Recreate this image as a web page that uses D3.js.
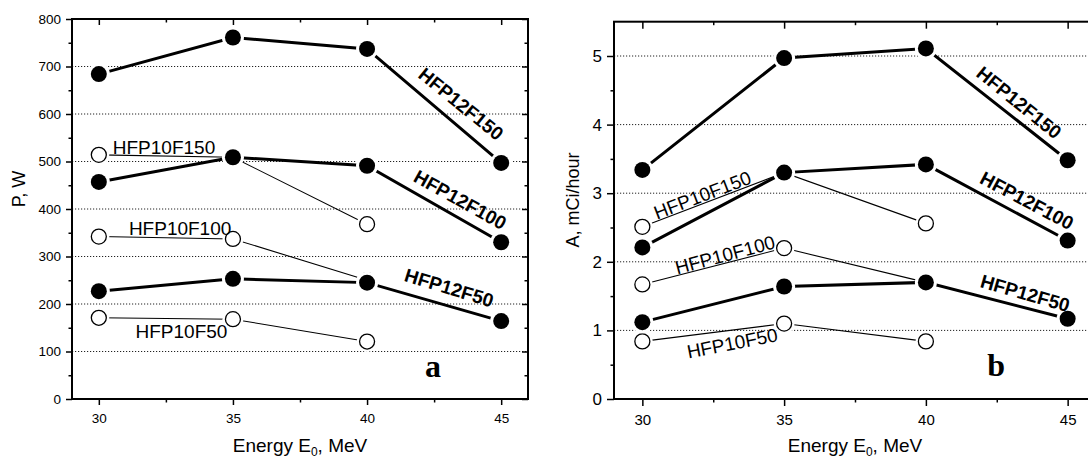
<!DOCTYPE html>
<html>
<head>
<meta charset="utf-8">
<script src="https://cdn.jsdelivr.net/npm/d3@7"></script>
<style>
  body { margin: 0; background: #fff; }
  svg text { font-family: "Liberation Sans", Arial, sans-serif; fill: #000; }
</style>
</head>
<body>
<div id="d3-container"></div>
<script>
// Energies E0 (MeV) and axis ticks
const energies = [30, 35, 40, 45];
const energyTicks = [30, 35, 40, 45];
const energyMinorTicks = [32.5, 37.5, 42.5];

// Panel a: beam power P, W
const powerTicks = [0, 100, 200, 300, 400, 500, 600, 700, 800];
const powerMinorTicks = [50, 150, 250, 350, 450, 550, 650, 750];
const powerGrid = [100, 200, 300, 400, 500, 600, 700];
const powerHFP12F150 = [684, 761, 737, 497];
const powerHFP12F100 = [457, 509, 491, 330];
const powerHFP12F50 = [227, 253, 245, 164];
const powerHFP10F150 = [514, 509, 368];
const powerHFP10F100 = [342, 337, 250];
const powerHFP10F50 = [171, 168, 121];

// Panel b: activity A, mCi/hour
const activityTicks = [0, 1, 2, 3, 4, 5];
const activityMinorTicks = [0.5, 1.5, 2.5, 3.5, 4.5];
const activityGrid = [1, 2, 3, 4, 5];
const activityHFP12F150 = [3.34, 4.97, 5.11, 3.48];
const activityHFP12F100 = [2.21, 3.30, 3.42, 2.31];
const activityHFP12F50 = [1.12, 1.64, 1.70, 1.17];
const activityHFP10F150 = [2.51, 3.30, 2.56];
const activityHFP10F100 = [1.67, 2.20, 1.70];
const activityHFP10F50 = [0.84, 1.10, 0.84];

const width = 1088;
const height = 458;

const svg = d3.select('#d3-container')
    .append('svg')
    .attr('width', width)
    .attr('height', height);

// label anchors are given in data units (energy, value)
const panels = [
    {
        left: 72, right: 528, top: 19, bottom: 399,
        yDomain: [0, 800], yTicks: powerTicks, yMinor: powerMinorTicks, grid: powerGrid,
        yFont: 13.5, xFont: 13.5, tick: 6,
        title: 'P, W', titleX: 19, titleY: 189,
        letter: 'a', letterAt: [42.46, 46],
        series: [
            { name: 'HFP10F150', values: powerHFP10F150, filled: false },
            { name: 'HFP10F100', values: powerHFP10F100, filled: false },
            { name: 'HFP10F50', values: powerHFP10F50, filled: false },
            { name: 'HFP12F150', values: powerHFP12F150, filled: true },
            { name: 'HFP12F100', values: powerHFP12F100, filled: true },
            { name: 'HFP12F50', values: powerHFP12F50, filled: true }
        ],
        labels: [
            { text: 'HFP10F150', at: [32.43, 530], angle: 0, bold: false },
            { text: 'HFP10F100', at: [33.03, 359], angle: 0, bold: false },
            { text: 'HFP10F50', at: [33.08, 142], angle: 0, bold: false },
            { text: 'HFP12F150', at: [43.5, 621], angle: 39, bold: true },
            { text: 'HFP12F100', at: [43.47, 419], angle: 29, bold: true },
            { text: 'HFP12F50', at: [43.06, 234], angle: 17, bold: true }
        ]
    },
    {
        left: 614, right: 1096, top: 21.7, bottom: 399,
        yDomain: [0, 5.5], yTicks: activityTicks, yMinor: activityMinorTicks, grid: activityGrid,
        yFont: 17, xFont: 15, tick: 7,
        title: 'A, mCi/hour', titleX: 573, titleY: 200,
        letter: 'b', letterAt: [42.48, 0.33],
        series: [
            { name: 'HFP10F150', values: activityHFP10F150, filled: false },
            { name: 'HFP10F100', values: activityHFP10F100, filled: false },
            { name: 'HFP10F50', values: activityHFP10F50, filled: false },
            { name: 'HFP12F150', values: activityHFP12F150, filled: true },
            { name: 'HFP12F100', values: activityHFP12F100, filled: true },
            { name: 'HFP12F50', values: activityHFP12F50, filled: true }
        ],
        labels: [
            { text: 'HFP10F150', at: [32.12, 2.97], angle: -21, bold: false },
            { text: 'HFP10F100', at: [32.92, 2.10], angle: -15, bold: false },
            { text: 'HFP10F50', at: [33.17, 0.81], angle: -11, bold: false },
            { text: 'HFP12F150', at: [43.28, 4.32], angle: 39, bold: true },
            { text: 'HFP12F100', at: [43.56, 2.89], angle: 28, bold: true },
            { text: 'HFP12F50', at: [43.5, 1.54], angle: 16, bold: true }
        ]
    }
];

function styleAxis(g, fontSize) {
    g.select('.domain').remove();
    g.selectAll('.tick line').attr('stroke', '#000').attr('stroke-width', 1.5);
    g.selectAll('.tick text').attr('font-size', fontSize + 'px').attr('fill', '#000');
    g.attr('font-family', null);
}

function drawPanel(p) {
    const x = d3.scaleLinear().domain([29, 46]).range([p.left, p.right]);
    const y = d3.scaleLinear().domain(p.yDomain).range([p.bottom, p.top]);
    const g = svg.append('g');

    // dotted horizontal grid
    g.append('g').selectAll('line')
        .data(p.grid)
        .join('line')
            .attr('x1', p.left).attr('x2', p.right)
            .attr('y1', d => y(d)).attr('y2', d => y(d))
            .attr('stroke', '#222').attr('stroke-width', 1)
            .attr('stroke-dasharray', '1.2,1.8');

    // ticks: labelled ones outside, mirrored ones inside
    g.append('g').attr('transform', `translate(${p.left},0)`)
        .call(d3.axisLeft(y).tickValues(p.yTicks).tickSize(p.tick).tickPadding(5).tickFormat(d3.format('d')))
        .call(styleAxis, p.yFont);
    g.append('g').attr('transform', `translate(${p.left},0)`)
        .call(d3.axisLeft(y).tickValues(p.yMinor).tickSize(3.5).tickFormat(''))
        .call(styleAxis, p.yFont);
    g.append('g').attr('transform', `translate(${p.right},0)`)
        .call(d3.axisRight(y).tickValues(p.yTicks).tickSize(-p.tick).tickFormat(''))
        .call(styleAxis, p.yFont);
    g.append('g').attr('transform', `translate(${p.right},0)`)
        .call(d3.axisRight(y).tickValues(p.yMinor).tickSize(-3.5).tickFormat(''))
        .call(styleAxis, p.yFont);
    g.append('g').attr('transform', `translate(0,${p.bottom})`)
        .call(d3.axisBottom(x).tickValues(energyTicks).tickSize(p.tick).tickPadding(8))
        .call(styleAxis, p.xFont);
    g.append('g').attr('transform', `translate(0,${p.bottom})`)
        .call(d3.axisBottom(x).tickValues(energyMinorTicks).tickSize(3.5).tickFormat(''))
        .call(styleAxis, p.xFont);
    g.append('g').attr('transform', `translate(0,${p.top})`)
        .call(d3.axisTop(x).tickValues(energyTicks).tickSize(-p.tick).tickFormat(''))
        .call(styleAxis, p.xFont);
    g.append('g').attr('transform', `translate(0,${p.top})`)
        .call(d3.axisTop(x).tickValues(energyMinorTicks).tickSize(-3.5).tickFormat(''))
        .call(styleAxis, p.xFont);

    // frame
    g.append('rect')
        .attr('x', p.left).attr('y', p.top)
        .attr('width', p.right - p.left).attr('height', p.bottom - p.top)
        .attr('fill', 'none').attr('stroke', '#000').attr('stroke-width', 2);

    // series: thin open ones first, then the thick filled ones
    const line = d3.line().x((d, i) => x(energies[i])).y(d => y(d));
    p.series.forEach(s => {
        g.append('path')
            .attr('d', line(s.values))
            .attr('fill', 'none')
            .attr('stroke', '#000')
            .attr('stroke-width', s.filled ? 3 : 1.1);
        const r = s.filled ? 8 : 7.5;
        // white halo so the lines stop short of the markers
        g.append('g').selectAll('circle')
            .data(s.values)
            .join('circle')
                .attr('cx', (d, i) => x(energies[i]))
                .attr('cy', d => y(d))
                .attr('r', r + 3)
                .attr('fill', '#fff');
        g.append('g').selectAll('circle')
            .data(s.values)
            .join('circle')
                .attr('cx', (d, i) => x(energies[i]))
                .attr('cy', d => y(d))
                .attr('r', r)
                .attr('fill', s.filled ? '#000' : '#fff')
                .attr('stroke', '#000')
                .attr('stroke-width', s.filled ? 0 : 1.3);
    });

    // series labels
    g.append('g').selectAll('text')
        .data(p.labels)
        .join('text')
            .attr('transform', d => `translate(${x(d.at[0])},${y(d.at[1])}) rotate(${d.angle})`)
            .attr('text-anchor', 'middle')
            .attr('dominant-baseline', 'central')
            .attr('font-size', '19px')
            .attr('font-weight', d => d.bold ? 'bold' : 'normal')
            .text(d => d.text);

    // panel letter
    g.append('text')
        .attr('x', x(p.letterAt[0])).attr('y', y(p.letterAt[1]))
        .attr('text-anchor', 'middle')
        .attr('font-size', '32px')
        .attr('font-weight', 'bold')
        .style('font-family', '"Liberation Serif", "Times New Roman", serif')
        .text(p.letter);

    // axis titles
    g.append('text')
        .attr('transform', `translate(${p.titleX},${p.titleY}) rotate(-90)`)
        .attr('text-anchor', 'middle')
        .attr('dominant-baseline', 'central')
        .attr('font-size', '18px')
        .text(p.title);

    const xt = g.append('text')
        .attr('x', (p.left + p.right) / 2)
        .attr('y', 452)
        .attr('text-anchor', 'middle')
        .attr('font-size', '19px');
    xt.append('tspan').text('Energy E');
    xt.append('tspan').attr('font-size', '12px').attr('dy', 4).text('0');
    xt.append('tspan').attr('dy', -4).text(', MeV');
}

panels.forEach(drawPanel);
</script>
</body>
</html>
